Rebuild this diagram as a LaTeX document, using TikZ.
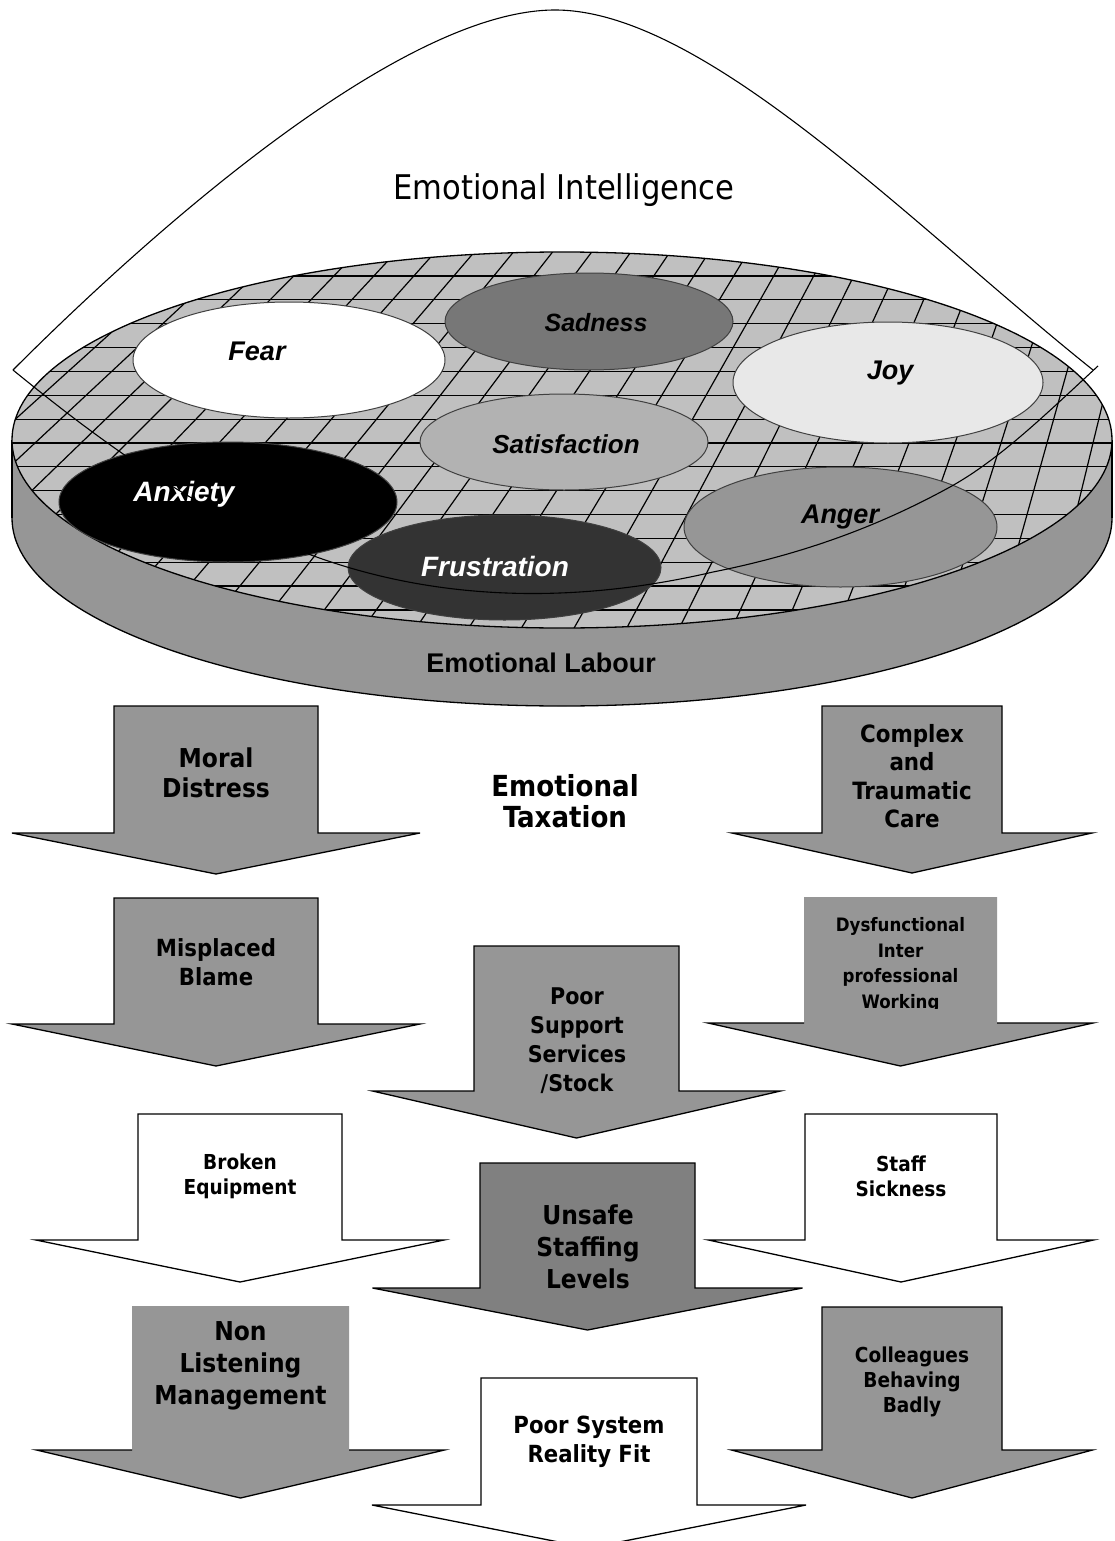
\documentclass[tikz,border=0pt]{standalone}
\usepackage{fontspec}
\setmainfont{Liberation Sans}
\newfontfamily\blockfont{DejaVu Sans Condensed}
\definecolor{disctop}{gray}{0.753}
\definecolor{discside}{gray}{0.588}
\definecolor{sadfill}{gray}{0.467}
\definecolor{joyfill}{gray}{0.91}
\definecolor{satfill}{gray}{0.70}
\definecolor{frufill}{gray}{0.2}
\definecolor{angfill}{gray}{0.588}
\definecolor{arrowgray}{gray}{0.588}
\definecolor{darkarrow}{gray}{0.5}
% block arrow pointing down: options, centre x, top, shaft half width, shoulder y, head half width, tip y
\newcommand\blockarrow[7]{%
  \path[#1] ({#2-#4},#3) -- ({#2+#4},#3) -- ({#2+#4},#5) -- ({#2+#6},#5)
    -- (#2,#7) -- ({#2-#6},#5) -- ({#2-#4},#5) -- cycle;}
% outline of the head only: centre x, shaft half width, shoulder y, head half width, tip y
\newcommand\headoutline[5]{%
  \draw[line width=1.3pt,line join=miter] ({#1-#2},#3) -- ({#1-#4},#3) -- (#1,#5)
    -- ({#1+#4},#3) -- ({#1+#2},#3);}
\begin{document}
\begin{tikzpicture}[x=1pt,y=-1pt,
  arrowline/.style={draw=black,line width=1.3pt,line join=miter},
  emo/.style={draw=black!75,line width=1pt},
  emotext/.style={font=\bfseries\itshape\fontsize{#1}{#1}\selectfont},
  blocktext/.style 2 args={align=center,font=\blockfont\bfseries\fontsize{#1}{#2}\selectfont},
  gridline/.style={line width=1.2pt}]
\useasboundingbox (0,0) rectangle (1114,1541);
\fill[white] (0,0) rectangle (1114,1541);

% ---- bell curve of emotional intelligence
\coordinate (bellL) at (13,370);
\coordinate (bellT) at (555,10);
\coordinate (bellR) at (1093,370);
\draw[line width=1.1pt] (bellL) .. controls (163,220) and (405,10) .. (bellT)
  .. controls (705,10) and (913,226) .. (bellR);
\node (ei) at (564,190) {\blockfont\fontsize{34}{34}\selectfont Emotional Intelligence};

% ---- disc: side band and top surface
\filldraw[fill=discside,line width=1.3pt] (562,518) ellipse [x radius=550, y radius=188];
\fill[discside] (12,440) rectangle (1112,518);
\draw[line width=1.3pt] (12,440) -- (12,518) (1112,440) -- (1112,518);
\fill[disctop] (562,440) ellipse [x radius=550, y radius=188];
\begin{scope}
  \clip (562,440) ellipse [x radius=550, y radius=188];
  \foreach \k in {0,...,14}
    \draw[gridline] (0,{276+23.85*\k}) -- (1114,{276+23.85*\k});
  \foreach \k in {-2,...,25}{
    \pgfmathsetmacro\xa{1404+(35+46*\k-1404)*0.8412}
    \pgfmathsetmacro\xb{1404+(35+46*\k-1404)*1.1541}
    \draw[gridline] (\xa,240) -- (\xb,640);}
\end{scope}
\draw[line width=1.3pt] (562,440) ellipse [x radius=550, y radius=188];

% ---- emotions
\filldraw[emo,fill=white]    (289,360) ellipse [x radius=156, y radius=58];
\filldraw[emo,fill=sadfill]  (589,321.5) ellipse [x radius=144, y radius=48.5];
\filldraw[emo,fill=joyfill]  (888,382.5) ellipse [x radius=155, y radius=60.5];
\filldraw[emo,fill=satfill]  (564,442) ellipse [x radius=144, y radius=48];
\filldraw[emo,fill=angfill]  (840.5,527) ellipse [x radius=156.5, y radius=60];
\filldraw[emo,fill=black]    (228,502) ellipse [x radius=169, y radius=60];
\filldraw[emo,fill=frufill]  (504.5,567.5) ellipse [x radius=156.5, y radius=52.5];

\node[emotext=27] (fear) at (257,351) {Fear};
\node[emotext=25] (sadness) at (596,323) {Sadness};
\node[emotext=27] (joy) at (890,373) {Joy};
\node[emotext=26] (satisfaction) at (566,444) {Satisfaction};
\node[emotext=28,text=white] (anxiety) at (184,494) {Anxiety};
\node[emotext=28,text=white] (frustration) at (495,566) {Frustration};
\node[emotext=27] (anger) at (840,517) {Anger};

% ---- base of the bell curve, running over the disc
\coordinate (baseR) at (1098,366);
\draw[line width=1.1pt] (bellL) .. controls (123,460) and (227,531) .. (347,567)
  .. controls (467,603) and (593,600) .. (713,572)
  .. controls (793,556) and (870,531) .. (950,487)
  .. controls (1000,459.5) and (1048,412) .. (baseR);

\node[font=\bfseries\fontsize{27}{27}\selectfont] (labour) at (541,663) {Emotional Labour};

% ---- emotional taxation
\node[blocktext={29}{31}] (taxation) at (565,801) {Emotional\\Taxation};

\blockarrow{arrowline,fill=arrowgray}{216}{706}{102}{833}{204}{874}
\node[blocktext={26}{30}] (moral) at (216,773) {Moral\\Distress};

\blockarrow{arrowline,fill=arrowgray}{912}{706}{90}{833}{180}{873}
\node[blocktext={23.8}{28.5}] (complex) at (912,776) {Complex\\and\\Traumatic\\Care};

\blockarrow{arrowline,fill=arrowgray}{216}{898}{102}{1024}{204}{1066}
\node[blocktext={23.6}{29}] (blame) at (216,962) {Misplaced\\Blame};

\blockarrow{fill=arrowgray}{900.5}{897}{96.5}{1023}{192.5}{1066}
\headoutline{900.5}{96.5}{1023}{192.5}{1066}
\begin{scope}
  \clip (804,897) rectangle (997,1008);
  \node[blocktext={18.5}{25.7}] (dysfunctional) at (900.5,965)
    {Dysfunctional\\Inter\\professional\\Working};
\end{scope}

\blockarrow{arrowline,fill=arrowgray}{576.5}{946}{102.5}{1091}{204}{1138}
\node[blocktext={23}{29}] (support) at (577,1041) {Poor\\Support\\Services\\/Stock};

\blockarrow{arrowline,fill=white}{240}{1114}{102}{1240}{204}{1282}
\node[blocktext={20.6}{25}] (broken) at (240,1176.5) {Broken\\Equipment};

\blockarrow{arrowline,fill=white}{901}{1114}{96}{1240}{192.5}{1282}
\node[blocktext={20.6}{25}] (sickness) at (901,1176.5) {Staff\\Sickness};

\blockarrow{arrowline,fill=darkarrow}{587.5}{1163}{107.5}{1288}{215}{1330}
\node[blocktext={26}{32}] (unsafe) at (588,1247) {Unsafe\\Staffing\\Levels};

\blockarrow{fill=arrowgray}{240.5}{1306}{108.5}{1450}{204}{1498}
\headoutline{240.5}{108.5}{1450}{204}{1498}
\node[blocktext={26}{32}] (management) at (240.5,1366) {Non\\Listening\\Management};

\blockarrow{arrowline,fill=arrowgray}{912}{1307}{90}{1450}{180.5}{1498}
\node[blocktext={20.6}{25}] (colleagues) at (912,1382) {Colleagues\\Behaving\\Badly};

\blockarrow{arrowline,fill=white}{589}{1378}{108}{1505}{217}{1548}
\node[blocktext={23.6}{29}] (fit) at (589,1442) {Poor System\\Reality Fit};
\end{tikzpicture}
\end{document}
